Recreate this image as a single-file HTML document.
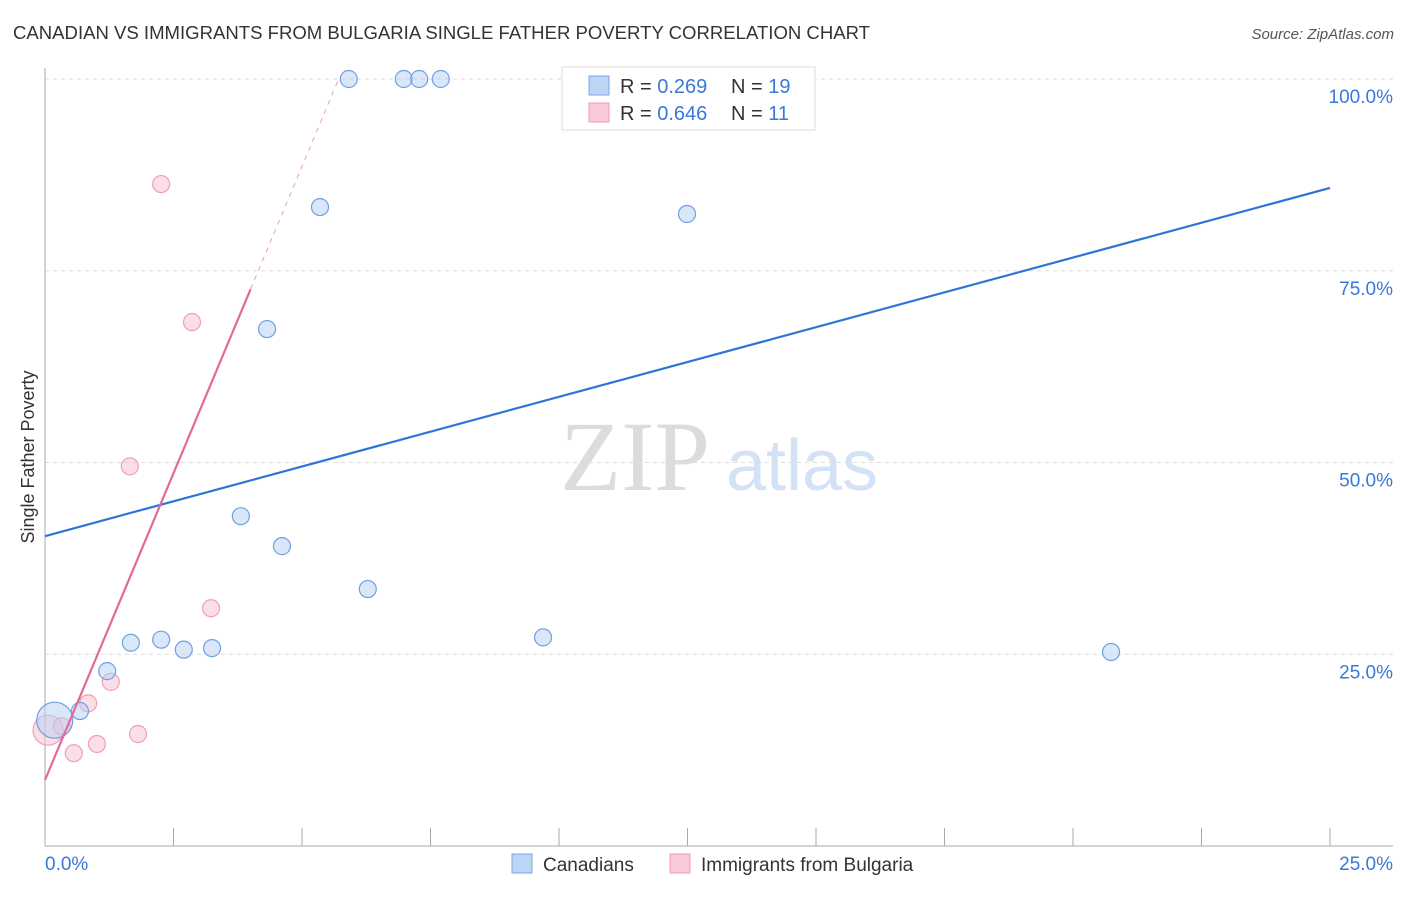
<!DOCTYPE html>
<html><head><meta charset="utf-8"><style>
body{margin:0;background:#fff;font-family:"Liberation Sans",sans-serif}
svg text{font-family:"Liberation Sans",sans-serif}
</style></head><body>
<svg id="c" width="1406" height="892" xmlns="http://www.w3.org/2000/svg">
<text x="13" y="39" font-size="18" fill="#333" textLength="857" lengthAdjust="spacingAndGlyphs">CANADIAN VS IMMIGRANTS FROM BULGARIA SINGLE FATHER POVERTY CORRELATION CHART</text>
<text x="1394" y="39" font-size="15" fill="#555" font-style="italic" text-anchor="end">Source: ZipAtlas.com</text>
<text x="34" y="457" font-size="18" fill="#333" transform="rotate(-90 34 457)" text-anchor="middle">Single Father Poverty</text>
<text x="635" y="490" font-size="100" fill="#dcdcdc" style="font-family:'Liberation Serif',serif" text-anchor="middle">ZIP</text>
<text x="802" y="490" font-size="72" fill="#d4e2f6" text-anchor="middle">atlas</text>
<g id="grid"></g><g id="marks"></g>
<g>
<rect x="562" y="67" width="253" height="63" fill="#fff" stroke="#ddd"/>
<rect x="589" y="76" width="20" height="19" fill="#bcd5f5" stroke="#7aa7e6"/>
<rect x="589" y="103" width="20" height="19" fill="#fac9d7" stroke="#ec9ab3"/>
<text x="620" y="93" font-size="20" fill="#333">R = <tspan fill="#3a78d8">0.269</tspan></text>
<text x="731" y="93" font-size="20" fill="#333">N = <tspan fill="#3a78d8">19</tspan></text>
<text x="620" y="120" font-size="20" fill="#333">R = <tspan fill="#3a78d8">0.646</tspan></text>
<text x="731" y="120" font-size="20" fill="#333">N = <tspan fill="#3a78d8"> 11</tspan></text>
</g>
<g>
<rect x="512" y="854" width="20" height="19" fill="#bcd5f5" stroke="#7aa7e6"/>
<text x="543" y="871" font-size="19" fill="#333">Canadians</text>
<rect x="670" y="854" width="20" height="19" fill="#fac9d7" stroke="#ec9ab3"/>
<text x="701" y="871" font-size="19" fill="#333">Immigrants from Bulgaria</text>
</g>
</svg>
<script>
const blueX=[0.19,0.68,1.21,1.67,2.26,2.70,3.25,3.81,4.32,4.61,5.35,5.91,6.28,6.98,7.28,7.70,9.69,12.49,20.74];
const blueY=[16.4,17.6,22.8,26.5,26.9,25.6,25.8,43.0,67.4,39.1,83.3,100,33.5,100,100,100,27.2,82.4,25.3];
const pinkX=[0.06,0.33,0.56,0.84,1.01,1.28,1.65,1.81,2.26,2.86,3.23];
const pinkY=[15.1,15.6,12.1,18.6,13.3,21.4,49.5,14.6,86.3,68.3,31.0];
const yTicks=[25,50,75,100];
const yTickLabels=["25.0%","50.0%","75.0%","100.0%"];
const blueLine=[40.4,85.8];
const pinkLine=[8.6,16.0];
const NS="http://www.w3.org/2000/svg";
const sx=v=>45+v/25*1285, sy=v=>846-v*7.67;
function el(t,a,p){const e=document.createElementNS(NS,t);for(const k in a)e.setAttribute(k,a[k]);p.appendChild(e);return e;}
const g=document.getElementById('grid'),m=document.getElementById('marks');
yTicks.forEach((t,i)=>{
 const l=el('line',{x1:45,x2:1393,y1:sy(t),y2:sy(t),stroke:'#ddd','stroke-dasharray':'4,4'},g);
 
 
 const tx=el('text',{x:1393,y:sy(t)+24,'font-size':19,fill:'#3a78d8','text-anchor':'end'},g);
 tx.textContent=yTickLabels[i];
 
 
});
el('line',{x1:45,x2:45,y1:68,y2:846,stroke:'#aaa'},g);
el('line',{x1:45,x2:1393,y1:846,y2:846,stroke:'#aaa'},g);
for(let i=0;i<=10;i++){const t=el('line',{x1:sx(i*2.5),x2:sx(i*2.5),y1:828,y2:846,stroke:'#aaa'},g);
 
 }
[[0,"0.0%","start",45],[25,"25.0%","end",1393]].forEach(a=>{const t=el('text',{x:a[3],y:870,'font-size':19,fill:'#3a78d8','text-anchor':a[2]},g);t.textContent=a[1];
 
 });
function dot(x,y,r,f,s,n){const c=el('circle',{cx:sx(x),cy:sy(y),r:r,fill:f,stroke:s,'stroke-width':1.2},m);
 
 }
pinkX.forEach((x,i)=>dot(x,pinkY[i],i==0?15:8.5,'rgba(248,190,206,0.5)','#eea0b8','bulgaria-point'));
blueX.forEach((x,i)=>dot(x,blueY[i],i==0?18:8.5,'rgba(180,208,244,0.5)','#6fa0e0','canadian-point'));
const bl=el('line',{x1:sx(0),y1:sy(blueLine[0]),x2:sx(25),y2:sy(blueLine[1]),stroke:'#2f74d6','stroke-width':2.2},m);


const pe=4.0, pd=(100-pinkLine[0])/pinkLine[1];
const pl=el('line',{x1:sx(0),y1:sy(pinkLine[0]),x2:sx(pe),y2:sy(pinkLine[0]+pinkLine[1]*pe),stroke:'#e46a96','stroke-width':2.2},m);


const pdl=el('line',{x1:sx(pe),y1:sy(pinkLine[0]+pinkLine[1]*pe),x2:sx(pd),y2:sy(100),stroke:'#eaa0bb','stroke-width':1,'stroke-dasharray':'5,5'},m);


</script>
</body></html>
